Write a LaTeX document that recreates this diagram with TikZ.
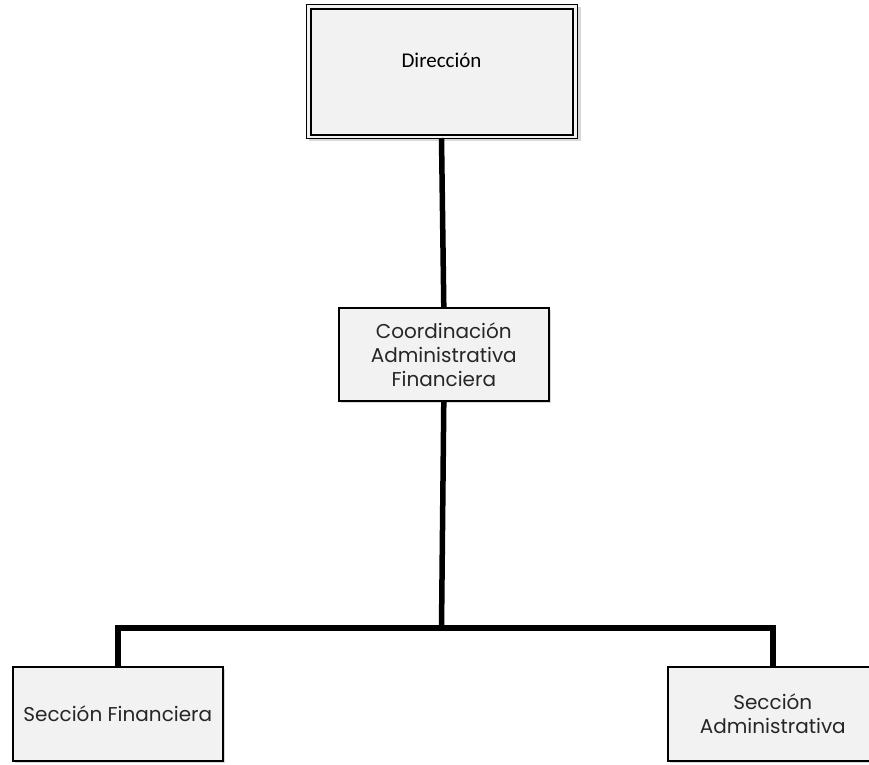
\documentclass[tikz,border=0pt]{standalone}
\usepackage{fontspec}
\setmainfont{Poppins}
\newfontfamily\calfont{Carlito}
\begin{document}
\begin{tikzpicture}[x=1pt,y=-1pt,
  box/.style={draw=black,line width=1.6pt,fill=black!5,inner sep=0pt,anchor=north west},
  shade/.style={fill=black!15,draw=none},
  conn/.style={line width=5.5pt,line cap=butt},
  lbl/.style={font=\fontsize{20}{24}\selectfont,align=center,text=black!85}
]
\useasboundingbox (0,0) rectangle (869,764);
\clip (0,0) rectangle (869,764);
% Direccion
\fill[shade] (309,7) rectangle (581,141);
\draw[line width=0.8pt,fill=black!5] (306,4) rectangle (577,138);
\draw[line width=1.2pt] (311,9) rectangle (573,135);
\node[font=\calfont\fontsize{21}{24}\selectfont] (dir) at (441.5,60) {Dirección};
\coordinate (dirb) at (441.5,138);
% Coordinacion
\fill[shade] (341,310) rectangle (551,403);
\node[box,minimum width=210pt,minimum height=93pt] (coord) at (338,307) {};
\node[lbl] (coordt) at (coord.center) {Coordinación\\Administrativa\\Financiera};
% Secciones
\fill[shade] (15,669) rectangle (225,763);
\node[box,minimum width=210pt,minimum height=94pt] (fin) at (12,666) {};
\node[lbl] (fint) at (fin.center) {Sección Financiera};
\fill[shade] (670,669) rectangle (880,763);
\node[box,minimum width=210pt,minimum height=94pt] (adm) at (667,666) {};
\node[lbl] (admt) at (adm.center) {Sección\\Administrativa};
% connectors
\coordinate (bar) at (441.5,628);
\draw[conn] (dirb) -- (coord.north);
\draw[conn] (coord.south) -- (bar);
\draw[conn] (fin.north) -- (fin.north |- bar) -- (adm.north |- bar) -- (adm.north);
\end{tikzpicture}
\end{document}
